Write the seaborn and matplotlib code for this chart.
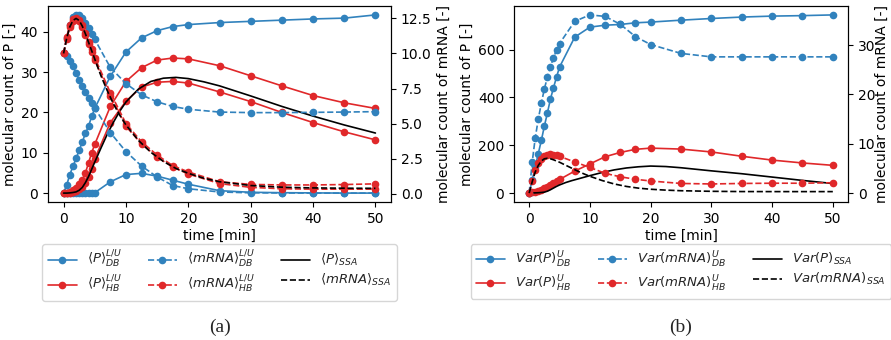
import numpy as np
import matplotlib
matplotlib.use("Agg")
import matplotlib.pyplot as plt
import seaborn as sns

# ---------------- data ----------------
t = [0, 0.5, 1, 1.5, 2, 2.5, 3, 3.5, 4, 4.5, 5, 7.5, 10, 12.5, 15, 17.5, 20, 25, 30, 35, 40, 45, 50]
t_ssa = [0, 0.5, 1, 1.5, 2, 2.5, 3, 3.5, 4, 4.5, 5, 6, 7, 8, 9, 10, 12, 14, 16, 18, 20, 22.5, 25, 30, 35, 40, 45, 50]

# panel (a): means, lower / upper bounds
p_db_u = [0, 2.0, 4.6, 6.6, 8.6, 10.6, 12.7, 14.8, 16.6, 19.0, 21.0, 29.0, 35.0, 38.5, 40.3, 41.3, 41.8, 42.3, 42.6, 42.9, 43.2, 43.4, 44.2]
p_db_l = [0, 0, 0, 0, 0, 0, 0, 0, 0, 0, 0.1, 2.8, 4.6, 4.9, 4.2, 3.2, 2.2, 0.6, 0.2, 0.1, 0.05, 0.0, 0.0]
p_hb_u = [0, 0.1, 0.3, 0.7, 1.3, 2.2, 3.3, 5.0, 7.5, 10.0, 12.1, 21.5, 27.7, 31.1, 33.0, 33.5, 33.3, 31.6, 29.1, 26.6, 24.2, 22.4, 21.0]
p_hb_l = [0, 0.05, 0.1, 0.3, 0.6, 1.0, 1.6, 2.6, 4.0, 6.0, 8.5, 17.5, 22.8, 26.3, 27.5, 27.7, 27.3, 25.1, 22.7, 20.0, 17.5, 15.2, 13.2]
m_db_u = [10, 11.1, 12.0, 12.6, 12.75, 12.75, 12.5, 12.2, 11.85, 11.4, 11.0, 9.0, 7.85, 7.05, 6.55, 6.22, 6.02, 5.82, 5.78, 5.78, 5.8, 5.82, 5.85]
m_db_l = [10, 9.8, 9.45, 9.07, 8.6, 8.1, 7.65, 7.25, 6.85, 6.45, 6.1, 4.35, 3.0, 1.97, 1.19, 0.58, 0.35, 0.12, 0.06, 0.05, 0.04, 0.04, 0.04]
m_hb_u = [10, 11.2, 12.0, 12.45, 12.55, 12.4, 12.0, 11.45, 10.85, 10.3, 9.7, 7.2, 5.0, 3.7, 2.75, 2.0, 1.55, 0.85, 0.66, 0.62, 0.62, 0.65, 0.7]
m_hb_l = [10, 11.0, 11.9, 12.35, 12.45, 12.3, 11.9, 11.3, 10.7, 10.1, 9.5, 7.0, 4.8, 3.55, 2.6, 1.9, 1.4, 0.72, 0.45, 0.35, 0.32, 0.32, 0.32]
p_ssa = [0, 0.0, 0.05, 0.15, 0.3, 0.7, 1.4, 2.6, 4.1, 5.9, 7.7, 11.2, 14.6, 17.6, 20.3, 22.6, 25.8, 27.7, 28.5, 28.7, 28.4, 27.6, 26.6, 24.1, 21.5, 19.1, 16.9, 14.9]
m_ssa = [10, 11.1, 11.9, 12.35, 12.5, 12.35, 11.95, 11.4, 10.8, 10.2, 9.6, 8.4, 7.35, 6.4, 5.6, 4.9, 3.8, 2.95, 2.3, 1.8, 1.45, 1.1, 0.85, 0.58, 0.46, 0.41, 0.39, 0.38]

# panel (b): variances, upper bounds
vp_db = [0, 55, 110, 165, 220, 280, 335, 393, 440, 485, 527, 652, 694, 702, 705, 712, 715, 723, 730, 736, 740, 742, 745]
vm_db = [0, 6.3, 11.2, 15.0, 18.2, 21.1, 23.5, 25.6, 27.4, 29.0, 30.3, 34.8, 36.1, 35.8, 34.2, 31.7, 30.1, 28.3, 27.6, 27.6, 27.6, 27.6, 27.6]
vp_hb = [0, 3, 6, 10, 15, 20, 27, 35, 42, 50, 57, 92, 122, 152, 170, 183, 188, 184, 172, 154, 138, 126, 116]
vm_hb = [0, 2.4, 4.6, 6.1, 7.0, 7.5, 7.75, 7.85, 7.8, 7.65, 7.45, 6.3, 5.2, 4.0, 3.3, 2.8, 2.45, 1.95, 1.85, 1.95, 2.0, 2.0, 2.1]
vp_ssa = [0, 0.5, 1, 1.5, 2.5, 4, 8, 14, 21, 28, 34, 44, 52, 59, 66, 73, 86, 97, 105, 110, 113, 111, 106, 93, 81, 67, 53, 40]
vm_ssa = [0, 2.3, 4.3, 5.6, 6.5, 6.95, 7.05, 6.95, 6.75, 6.5, 6.25, 5.65, 5.05, 4.45, 3.9, 3.4, 2.55, 1.85, 1.35, 1.0, 0.78, 0.6, 0.48, 0.36, 0.31, 0.3, 0.3, 0.3]

labels_a = [r'$\langle P\rangle_{DB}^{L/U}$', r'$\langle P\rangle_{HB}^{L/U}$',
            r'$\langle mRNA\rangle_{DB}^{L/U}$', r'$\langle mRNA\rangle_{HB}^{L/U}$',
            r'$\langle P\rangle_{SSA}$', r'$\langle mRNA\rangle_{SSA}$']
labels_b = [r'$Var(P)_{DB}^{U}$', r'$Var(P)_{HB}^{U}$',
            r'$Var(mRNA)_{DB}^{U}$', r'$Var(mRNA)_{HB}^{U}$',
            r'$Var(P)_{SSA}$', r'$Var(mRNA)_{SSA}$']

BLUE = '#3182bd'
RED = '#e0282a'

sns.set_style('ticks')
plt.rcParams['font.family'] = ['DejaVu Sans']
plt.rcParams['font.size'] = 10
plt.rcParams['axes.edgecolor'] = 'black'
plt.rcParams['xtick.color'] = 'black'
plt.rcParams['ytick.color'] = 'black'
plt.rcParams['axes.labelcolor'] = 'black'

fig = plt.figure(figsize=(8.91, 3.4), dpi=100)
W, H = 891, 340


def add_ax(x0, x1, y0, y1):
    return fig.add_axes([x0 / W, 1 - y1 / H, (x1 - x0) / W, (y1 - y0) / H])


def draw(ax, x, y, color, ls, marker=True):
    kw = dict(x=x, y=y, ax=ax, color=color, linestyle=ls, lw=1.2,
              legend=False, sort=False, errorbar=None)
    if marker:
        kw.update(marker='o', markersize=5.5, markeredgewidth=0)
    sns.lineplot(**kw)
    return ax.get_lines()[-1]


def panel(ax, series_p, series_m, black_p, black_m, labels, ylab_l, ylab_r, colsp, rpad):
    ax2 = ax.twinx()
    hp = []
    for col, ys in series_p:
        h = None
        for y in ys:
            h = draw(ax, t, y, col, '-')
        hp.append(h)
    hm = []
    for col, ys in series_m:
        h = None
        for y in ys:
            h = draw(ax2, t, y, col, '--')
        hm.append(h)
    hb1 = draw(ax, t_ssa, black_p, 'black', '-', marker=False)
    hb2 = draw(ax2, t_ssa, black_m, 'black', '--', marker=False)
    handles = [hp[0], hp[1], hm[0], hm[1], hb1, hb2]
    ax.set_xticks([0, 10, 20, 30, 40, 50])
    ax.set_xlabel('time [min]', labelpad=2)
    ax.set_ylabel(ylab_l, labelpad=3)
    ax2.set_ylabel(ylab_r, labelpad=rpad)
    leg = ax.legend(handles, labels, loc='upper center', bbox_to_anchor=(0.5, -0.215),
                    ncol=3, borderaxespad=0, frameon=True, fontsize=9.5,
                    columnspacing=colsp, handlelength=2.2, labelspacing=0.3)
    leg.get_frame().set_edgecolor('0.8')
    return ax2


axA = add_ax(48, 391, 6, 202)
axA2 = panel(axA,
             [(BLUE, [p_db_u, p_db_l]), (RED, [p_hb_u, p_hb_l])],
             [(BLUE, [m_db_u, m_db_l]), (RED, [m_hb_u, m_hb_l])],
             p_ssa, m_ssa, labels_a,
             'molecular count of P [-]', 'molecular count of mRNA [-]', 1.9, 4)
axA2.set_yticks([0, 2.5, 5, 7.5, 10, 12.5])

axB = add_ax(514, 848, 6, 202)
axB2 = panel(axB,
             [(BLUE, [vp_db]), (RED, [vp_hb])],
             [(BLUE, [vm_db]), (RED, [vm_hb])],
             vp_ssa, vm_ssa, labels_b,
             'molecular count of P [-]', 'molecular count of mRNA [-]', 2.0, 0)
axB.set_yticks([0, 200, 400, 600])
axB2.set_yticks([0, 10, 20, 30])

fig.text(220 / W, 1 - 327 / H, '(a)', family='Liberation Serif', fontsize=14,
         ha='center', va='center')
fig.text(681 / W, 1 - 327 / H, '(b)', family='Liberation Serif', fontsize=14,
         ha='center', va='center')

fig.savefig('out.png', dpi=100)
